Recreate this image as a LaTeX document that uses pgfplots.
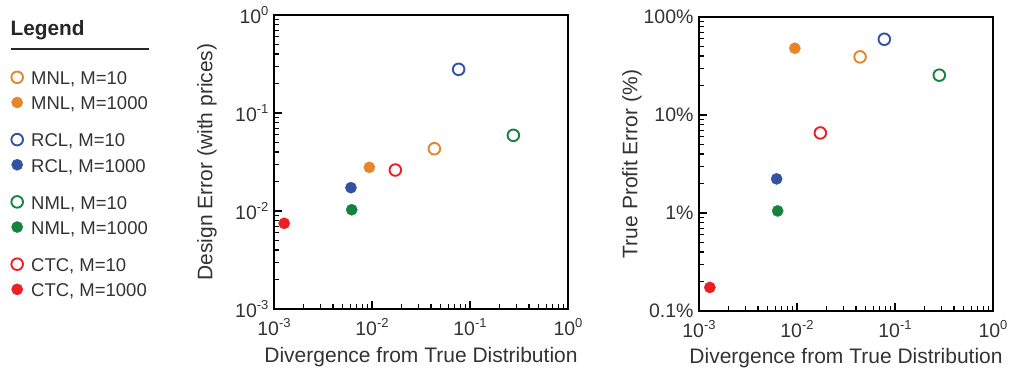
\documentclass[border=0pt]{standalone}
\usepackage{pgfplots}
\pgfplotsset{compat=1.18}
\usepackage{fontspec}
\setmainfont{Liberation Sans}
\definecolor{cO}{RGB}{230,134,40}
\definecolor{cB}{RGB}{52,82,162}
\definecolor{cG}{RGB}{22,130,62}
\definecolor{cR}{RGB}{237,30,36}
\newcommand{\sps}[1]{\raisebox{0.43em}{\fontsize{13bp}{13bp}\selectfont #1}}
\newcommand{\ls}{\rule[-7.85bp]{0pt}{29bp}}
\pgfplotsset{legend image code/.code={\draw[#1] plot coordinates {(0bp,-2.5bp)}; \path (13bp,0bp);}}
\begin{document}
\begin{tikzpicture}[x=1bp,y=1bp]
\path[use as bounding box] (0,0) rectangle (1013,371);
\begin{axis}[at={(274bp,62bp)}, anchor=south west,
  scale only axis, width=294bp, height=294bp,
  xmode=log, ymode=log, xmin=1e-3, xmax=1, ymin=1e-3, ymax=1,
  xtick={0.001,0.01,0.1,1},
  xticklabels={10\sps{-3},10\sps{-2},10\sps{-1},10\sps{0}},
  ytick={0.001,0.01,0.1,1},
  yticklabels={10\sps{-3},10\sps{-2},10\sps{-1},10\sps{0}},
  tick align=inside, xtick pos=left, ytick pos=left,
  major tick length=8bp, minor tick length=5bp,
  axis line style={line width=2bp},
  every tick/.append style={line width=1.1bp, black},
  ticklabel style={font=\fontsize{19.5bp}{22bp}\selectfont, text=black!80},
  xticklabel style={yshift=-6bp},
  yticklabel style={xshift=-2bp},
  label style={font=\fontsize{21bp}{24bp}\selectfont, text=black!80},
  clip=false,
  xlabel={Divergence from True Distribution},
  ylabel={Design Error (with prices)},
  xlabel style={at={(axis description cs:0.5,-0.1827)}, anchor=base},
  ylabel style={at={(axis description cs:-0.228,0.5)}, anchor=center},
  legend cell align=left,
  legend style={at={(-0.8932,0.835)}, anchor=north west, draw=none, fill=none,
    inner sep=0pt, outer sep=0pt, row sep=2.5bp, column sep=0pt,
    font=\fontsize{18.5bp}{20bp}\selectfont, text=black!80, nodes={inner sep=0pt}},
]
\addplot[only marks, mark=o, mark size=5.8bp, line width=1.9bp, color=cO] coordinates {(0.0433,0.0432)};
\addlegendentry{\ls MNL, M=10}
\addplot[only marks, mark=*, mark size=5.6bp, color=cO, mark options={draw=none}] coordinates {(0.0094,0.0279)};
\addlegendentry{\ls MNL, M=1000}
\addlegendimage{empty legend}
\addlegendentry{\rule{0pt}{8bp}}
\addplot[only marks, mark=o, mark size=5.8bp, line width=1.9bp, color=cB] coordinates {(0.0766,0.279)};
\addlegendentry{\ls RCL, M=10}
\addplot[only marks, mark=*, mark size=5.6bp, color=cB, mark options={draw=none}] coordinates {(0.0061,0.0173)};
\addlegendentry{\ls RCL, M=1000}
\addlegendimage{empty legend}
\addlegendentry{\rule{0pt}{8bp}}
\addplot[only marks, mark=o, mark size=5.8bp, line width=1.9bp, color=cG] coordinates {(0.277,0.0592)};
\addlegendentry{\ls NML, M=10}
\addplot[only marks, mark=*, mark size=5.6bp, color=cG, mark options={draw=none}] coordinates {(0.00621,0.0103)};
\addlegendentry{\ls NML, M=1000}
\addlegendimage{empty legend}
\addlegendentry{\rule{0pt}{8bp}}
\addplot[only marks, mark=o, mark size=5.8bp, line width=1.9bp, color=cR] coordinates {(0.0173,0.0262)};
\addlegendentry{\ls CTC, M=10}
\addplot[only marks, mark=*, mark size=5.6bp, color=cR, mark options={draw=none}] coordinates {(0.00127,0.00749)};
\addlegendentry{\ls CTC, M=1000}
\end{axis}
\begin{axis}[at={(699bp,60bp)}, anchor=south west,
  scale only axis, width=294bp, height=294bp,
  xmode=log, ymode=log, xmin=1e-3, xmax=1, ymin=0.1, ymax=100,
  xtick={0.001,0.01,0.1,1},
  xticklabels={10\sps{-3},10\sps{-2},10\sps{-1},10\sps{0}},
  ytick={0.1,1,10,100},
  yticklabels={0.1\%,1\%,10\%,100\%},
  tick align=inside, xtick pos=left, ytick pos=left,
  major tick length=8bp, minor tick length=5bp,
  axis line style={line width=2bp},
  every tick/.append style={line width=1.1bp, black},
  ticklabel style={font=\fontsize{19.5bp}{22bp}\selectfont, text=black!80},
  xticklabel style={yshift=-6bp},
  yticklabel style={xshift=-2bp},
  label style={font=\fontsize{21bp}{24bp}\selectfont, text=black!80},
  clip=false,
  xlabel={Divergence from True Distribution},
  ylabel={True Profit Error (\%)},
  xlabel style={at={(axis description cs:0.5,-0.177)}, anchor=base},
  ylabel style={at={(axis description cs:-0.228,0.5)}, anchor=center},
]
\addplot[only marks, mark=o, mark size=5.8bp, line width=1.9bp, color=cO] coordinates {(0.044,39.2)};
\addplot[only marks, mark=*, mark size=5.6bp, color=cO, mark options={draw=none}] coordinates {(0.0095,48)};
\addplot[only marks, mark=o, mark size=5.8bp, line width=1.9bp, color=cB] coordinates {(0.0778,59.3)};
\addplot[only marks, mark=*, mark size=5.6bp, color=cB, mark options={draw=none}] coordinates {(0.0062,2.23)};
\addplot[only marks, mark=o, mark size=5.8bp, line width=1.9bp, color=cG] coordinates {(0.283,25.5)};
\addplot[only marks, mark=*, mark size=5.6bp, color=cG, mark options={draw=none}] coordinates {(0.00635,1.05)};
\addplot[only marks, mark=o, mark size=5.8bp, line width=1.9bp, color=cR] coordinates {(0.0173,6.56)};
\addplot[only marks, mark=*, mark size=5.6bp, color=cR, mark options={draw=none}] coordinates {(0.00129,0.174)};
\end{axis}
\node[anchor=base west, font=\fontsize{20.8bp}{24bp}\selectfont\bfseries, text=black!85, inner sep=0pt] at (10.5,336) {Legend};
\draw[line width=2bp, black!85] (11,321.7) -- (149,321.7);
\end{tikzpicture}
\end{document}
